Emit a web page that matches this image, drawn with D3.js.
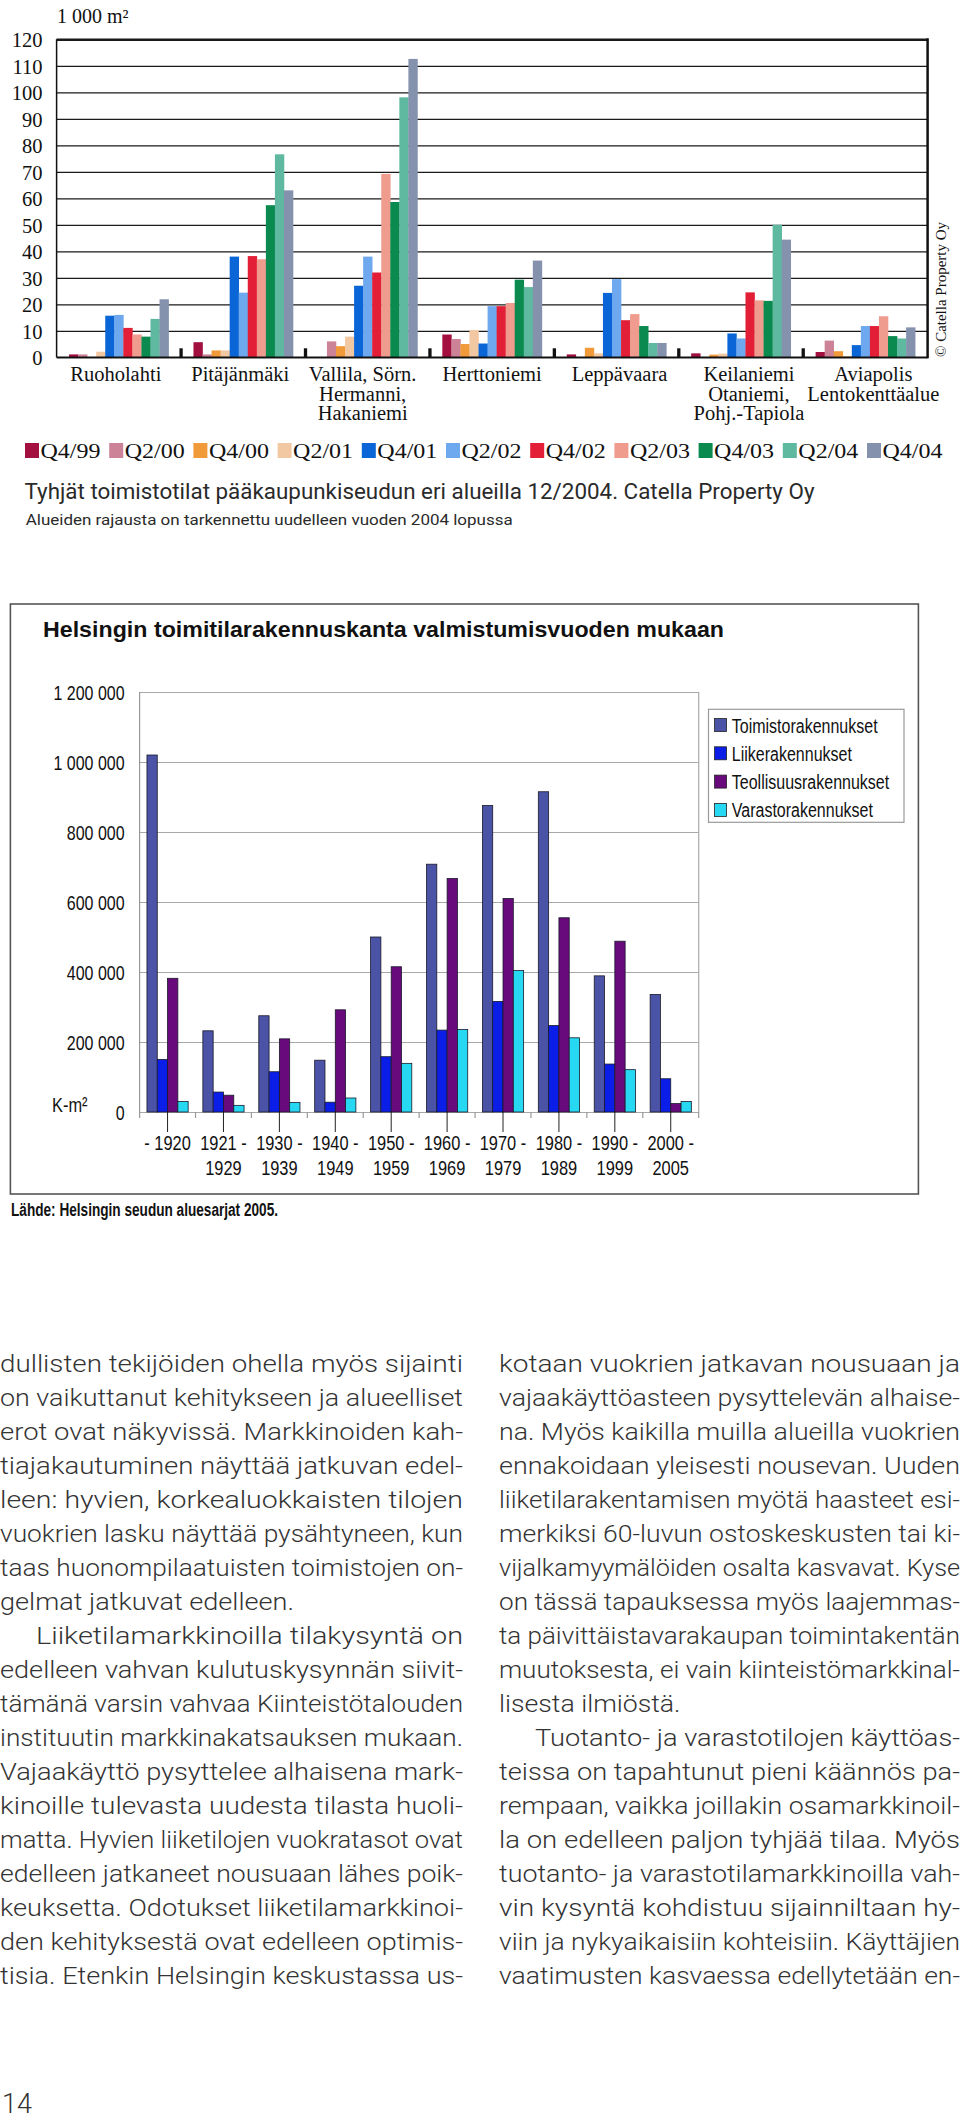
<!DOCTYPE html>
<html><head><meta charset="utf-8">
<script src="https://cdn.jsdelivr.net/npm/d3@7"></script>
<style>body{margin:0;background:#fff} svg{display:block}</style>
</head><body>
<svg id="page" width="960" height="2121"></svg>
<script>
// ================= DATA : chart 1 (vacant office space, 1 000 m²) =================
const quarters = ["Q4/99","Q2/00","Q4/00","Q2/01","Q4/01","Q2/02","Q4/02","Q2/03","Q4/03","Q2/04","Q4/04"];
const areaLabels = [["Ruoholahti"],["Pitäjänmäki"],["Vallila, Sörn.","Hermanni,","Hakaniemi"],["Herttoniemi"],["Leppävaara"],["Keilaniemi","Otaniemi,","Pohj.-Tapiola"],["Aviapolis","Lentokenttäalue"]];
const ruoholahti  = [1.1, 1.1, 0,   2.1, 15.7, 16,   11.1, 8.6,  7.8,  14.5, 21.9];
const pitajanmaki = [5.7, 1.1, 2.6, 2.6, 38,   24.4, 38.2, 37,   57.4, 76.6, 63];
const vallila     = [0,   6,   4.2, 7.8, 27,   38,   32,   69.2, 58.6, 98.1, 112.6];
const herttoniemi = [8.6, 6.9, 5,   10.3, 5.2, 19.3, 19.3, 20.5, 29.3, 26.5, 36.5];
const leppavaara  = [1.1, 0,   3.6, 1.5, 24.3, 29.5, 14,   16.3, 11.8, 5.4,  5.4];
const keilaniemi  = [1.5, 0,   1,   1.4, 9,    7.1,  24.5, 21.5, 21.3, 50,   44.4];
const aviapolis   = [2,   6.3, 2.3, 0.5, 4.6,  11.8, 11.8, 15.5, 8,    7.1,  11.3];
const vacancyTicks = [0,10,20,30,40,50,60,70,80,90,100,110,120];

// ================= DATA : chart 2 (building stock by completion period, k-m²) =================
const periods = [["- 1920"],["1921 -","1929"],["1930 -","1939"],["1940 -","1949"],["1950 -","1959"],["1960 -","1969"],["1970 -","1979"],["1980 -","1989"],["1990 -","1999"],["2000 -","2005"]];
const buildingTypes = ["Toimistorakennukset","Liikerakennukset","Teollisuusrakennukset","Varastorakennukset"];
const toimisto   = [1020000, 232000, 275000, 148000, 500000, 708000, 876000, 915000, 389000, 336000];
const liike      = [150000,  57000,  115000, 28000,  158000, 234000, 316000, 247000, 137000, 95000];
const teollisuus = [382000,  48000,  209000, 292000, 415000, 667000, 610000, 555000, 488000, 24000];
const varasto    = [30000,   19000,  27000,  40000,  139000, 236000, 404000, 212000, 121000, 30000];
const stockTicks = [0,200000,400000,600000,800000,1000000,1200000];

// ================= TEXT =================
const leftLines = [
"dullisten tekijöiden ohella myös sijainti",
"on vaikuttanut kehitykseen ja alueelliset",
"erot ovat näkyvissä.  Markkinoiden kah-",
"tiajakautuminen näyttää jatkuvan edel-",
"leen: hyvien, korkealuokkaisten tilojen",
"vuokrien lasku näyttää pysähtyneen, kun",
"taas huonompilaatuisten toimistojen on-",
"gelmat jatkuvat edelleen.",
"Liiketilamarkkinoilla tilakysyntä on",
"edelleen vahvan kulutuskysynnän siivit-",
"tämänä varsin vahvaa Kiinteistötalouden",
"instituutin markkinakatsauksen mukaan.",
"Vajaakäyttö pysyttelee alhaisena mark-",
"kinoille tulevasta uudesta tilasta huoli-",
"matta. Hyvien liiketilojen vuokratasot ovat",
"edelleen jatkaneet nousuaan lähes poik-",
"keuksetta. Odotukset liiketilamarkkinoi-",
"den kehityksestä ovat edelleen optimis-",
"tisia. Etenkin Helsingin keskustassa us-"];
const rightLines = [
"kotaan vuokrien jatkavan nousuaan ja",
"vajaakäyttöasteen pysyttelevän alhaise-",
"na. Myös kaikilla muilla alueilla vuokrien",
"ennakoidaan yleisesti nousevan. Uuden",
"liiketilarakentamisen myötä haasteet esi-",
"merkiksi 60-luvun ostoskeskusten tai ki-",
"vijalkamyymälöiden osalta kasvavat. Kyse",
"on tässä tapauksessa myös laajemmas-",
"ta päivittäistavarakaupan toimintakentän",
"muutoksesta, ei vain kiinteistömarkkinal-",
"lisesta ilmiöstä.",
"Tuotanto- ja varastotilojen käyttöas-",
"teissa on tapahtunut pieni käännös pa-",
"rempaan, vaikka joillakin osamarkkinoil-",
"la on edelleen paljon tyhjää tilaa. Myös",
"tuotanto- ja varastotilamarkkinoilla vah-",
"vin kysyntä kohdistuu sijainniltaan hy-",
"viin ja nykyaikaisiin kohteisiin. Käyttäjien",
"vaatimusten kasvaessa edellytetään en-"];

// ================= STYLE =================
const qColors = ["#a3103f","#cc8398","#f09a3a","#f2c8a2","#0a66d6","#6ea8ee","#e21f36","#ef9c8e","#0a8a4e","#5fb8a0","#8592ae"];
const tColors = ["#4b53a6","#0a1ee8","#680a7c","#26d8f2"];
const SERIF = "'Liberation Serif','Times New Roman',serif";
const SANS = "'Liberation Sans',Arial,sans-serif";
const BODY = "Roboto,'Noto Sans',sans-serif";

const svg = d3.select("#page");
function fitTo(sel, w){ sel.attr("textLength", w).attr("lengthAdjust","spacingAndGlyphs"); }
function condense(sel, f){ sel.each(function(){ const n=this.getComputedTextLength(); d3.select(this).attr("textLength",(n*f).toFixed(1)).attr("lengthAdjust","spacingAndGlyphs"); }); }

// ================= CHART 1 =================
const g1 = svg.append("g");
const vac = [ruoholahti, pitajanmaki, vallila, herttoniemi, leppavaara, keilaniemi, aviapolis];
const L1 = 56.6, R1 = 927.6;
const x0 = d3.scaleBand().domain(d3.range(areaLabels.length)).range([L1, R1]).paddingInner(0.2).paddingOuter(0.1);
const x1 = d3.scaleBand().domain(quarters).range([0, x0.bandwidth()]);
const y1 = d3.scaleLinear().domain([0,120]).range([357.3, 39.3]);

const ax1 = g1.append("g").attr("transform",`translate(${L1},0)`)
  .call(d3.axisLeft(y1).tickValues(vacancyTicks).tickSize(-(R1-L1)).tickPadding(14).tickFormat(d3.format("d")));
ax1.select(".domain").remove();
ax1.selectAll(".tick line").attr("stroke","#1a1a1a").attr("stroke-width",d=>d===120?2.5:1.3);
ax1.selectAll(".tick text").attr("font-family",SERIF).attr("font-size",20.5).attr("fill","#111").attr("dy","0.36em");

g1.append("text").attr("x",57).attr("y",23).attr("font-family",SERIF).attr("font-size",20).attr("fill","#111").text("1 000 m²");

// bars
g1.selectAll("g.area").data(vac).join("g").attr("class","area")
  .attr("transform",(d,i)=>`translate(${x0(i)},0)`)
  .selectAll("rect").data(d=>d.map((v,j)=>({q:quarters[j],v,j}))).join("rect")
  .attr("x",d=>x1(d.q)).attr("width",x1.bandwidth()+0.3)
  .attr("y",d=>y1(d.v)).attr("height",d=>y1(0)-y1(d.v))
  .attr("fill",d=>qColors[d.j]);

// frame
g1.append("line").attr("x1",L1).attr("x2",L1).attr("y1",y1(120)).attr("y2",y1(0)).attr("stroke","#111").attr("stroke-width",1.5);
g1.append("line").attr("x1",R1).attr("x2",R1).attr("y1",y1(120)-1).attr("y2",y1(0)+1).attr("stroke","#111").attr("stroke-width",2.5);
g1.append("line").attr("x1",L1).attr("x2",R1).attr("y1",y1(0)).attr("y2",y1(0)).attr("stroke","#111").attr("stroke-width",1.6);

// group separator ticks
const pad1 = (x0.step()-x0.bandwidth())/2;
g1.selectAll("rect.sep").data(d3.range(1,areaLabels.length)).join("rect").attr("class","sep")
  .attr("x",i=>x0(i)-pad1-1.6).attr("width",3.3).attr("y",y1(0)-9).attr("height",9).attr("fill","#111");

// category labels
const labelDx = [-3,-3,-5,0,3,8,8];
g1.selectAll("text.cat").data(areaLabels).join("text").attr("class","cat")
  .attr("font-family",SERIF).attr("font-size",20.5).attr("fill","#111").attr("text-anchor","middle")
  .each(function(lines,i){
    const cx = x0(i)+x0.bandwidth()/2+labelDx[i];
    d3.select(this).selectAll("tspan").data(lines).join("tspan")
      .attr("x",cx).attr("y",(d,k)=>381+k*19.5).text(d=>d);
  });

// copyright
g1.append("text").attr("transform","translate(946,357) rotate(-90)")
  .attr("font-family",SERIF).attr("font-size",15).attr("fill","#111").text("© Catella Property Oy").call(fitTo,135);

// legend
const lx = d3.scaleBand().domain(quarters).range([25, 25+11*84.2]);
const lg = g1.selectAll("g.leg").data(quarters).join("g").attr("class","leg").attr("transform",d=>`translate(${lx(d)},0)`);
lg.append("rect").attr("y",443).attr("width",14).attr("height",15).attr("fill",(d,i)=>qColors[i]);
lg.append("text").attr("x",15.5).attr("y",457.5).attr("font-family",SERIF).attr("font-size",20).attr("fill","#111").text(d=>d).call(fitTo,60);

// caption
svg.append("text").attr("x",24.5).attr("y",499).attr("font-family",BODY).attr("font-weight",400).attr("font-size",22).attr("fill","#2a2a2a")
  .text("Tyhjät toimistotilat pääkaupunkiseudun eri alueilla 12/2004. Catella Property Oy").call(fitTo,790);
svg.append("text").attr("x",25.7).attr("y",525).attr("font-family",BODY).attr("font-weight",400).attr("font-size",15.5).attr("fill","#2a2a2a")
  .text("Alueiden rajausta on tarkennettu uudelleen vuoden 2004 lopussa").call(fitTo,487);

// ================= CHART 2 =================
const g2 = svg.append("g");
g2.append("rect").attr("x",10.4).attr("y",604).attr("width",908).attr("height",590).attr("fill","none").attr("stroke","#555").attr("stroke-width",1.6);
g2.append("text").attr("x",43).attr("y",637).attr("font-family",SANS).attr("font-weight","bold").attr("font-size",22.5).attr("fill","#111")
  .text("Helsingin toimitilarakennuskanta valmistumisvuoden mukaan").call(fitTo,681);

const L2 = 139.6, R2 = 698.7;
const stock = [toimisto, liike, teollisuus, varasto];
const xA = d3.scaleBand().domain(d3.range(periods.length)).range([L2,R2]).paddingInner(0.263).paddingOuter(0.1315);
const xB = d3.scaleBand().domain(buildingTypes).range([0,xA.bandwidth()]);
const yA = d3.scaleLinear().domain([0,1200000]).range([1112,692]);
const loc = d3.formatLocale({decimal:",", thousands:" ", grouping:[3], currency:["","€"]});

const ax2 = g2.append("g").attr("transform",`translate(${L2},0)`)
  .call(d3.axisLeft(yA).tickValues(stockTicks).tickSize(-(R2-L2)).tickPadding(15).tickFormat(loc.format(",d")));
ax2.select(".domain").remove();
ax2.selectAll(".tick line").attr("stroke","#a8a8a8").attr("stroke-width",1.2);
ax2.selectAll(".tick text").attr("font-family",SANS).attr("font-size",20.5).attr("fill","#111").attr("dy","0.36em").call(condense,0.78);

// plot border
g2.append("line").attr("x1",L2).attr("x2",L2).attr("y1",692).attr("y2",1112).attr("stroke","#999").attr("stroke-width",1.2);
g2.append("line").attr("x1",R2).attr("x2",R2).attr("y1",692).attr("y2",1112).attr("stroke","#aaa").attr("stroke-width",1.2);

// boundary ticks under axis
g2.selectAll("line.bt").data(d3.range(periods.length+1)).join("line").attr("class","bt")
  .attr("x1",i=>L2+i*xA.step()).attr("x2",i=>L2+i*xA.step()).attr("y1",1112).attr("y2",1118).attr("stroke","#999").attr("stroke-width",1.2);
// center lines
g2.selectAll("line.ct").data(d3.range(periods.length)).join("line").attr("class","ct")
  .attr("x1",i=>xA(i)+xA.bandwidth()/2).attr("x2",i=>xA(i)+xA.bandwidth()/2).attr("y1",1112).attr("y2",1132).attr("stroke","#222").attr("stroke-width",1);

// bars
g2.selectAll("g.per").data(d3.range(periods.length)).join("g").attr("class","per")
  .attr("transform",i=>`translate(${xA(i)},0)`)
  .selectAll("rect").data(i=>stock.map((s,k)=>({t:buildingTypes[k],v:s[i],k}))).join("rect")
  .attr("x",d=>xB(d.t)).attr("width",xB.bandwidth())
  .attr("y",d=>yA(d.v)).attr("height",d=>yA(0)-yA(d.v))
  .attr("fill",d=>tColors[d.k]).attr("stroke","#1a1a2a").attr("stroke-width",0.8);

// x labels
g2.selectAll("text.per").data(periods).join("text").attr("class","per")
  .attr("font-family",SANS).attr("font-size",20.5).attr("fill","#111").attr("text-anchor","middle")
  .each(function(lines,i){
    const cx = xA(i)+xA.bandwidth()/2;
    d3.select(this).selectAll("tspan").data(lines).join("tspan").attr("x",cx).attr("y",(d,k)=>1150+k*25).text(d=>d);
  });
g2.selectAll("text.per tspan").call(condense,0.8);

g2.append("text").attr("x",52).attr("y",1112).attr("font-family",SANS).attr("font-size",20.5).attr("fill","#111").text("K-m²").call(condense,0.8);

// legend
g2.append("rect").attr("x",708.5).attr("y",709.3).attr("width",195.5).attr("height",113).attr("fill","#fff").attr("stroke","#999").attr("stroke-width",1.2);
const lg2 = g2.selectAll("g.leg2").data(buildingTypes).join("g").attr("class","leg2").attr("transform",(d,i)=>`translate(0,${725+i*28.3})`);
lg2.append("rect").attr("x",714.6).attr("y",-6.5).attr("width",12).attr("height",13).attr("fill",(d,i)=>tColors[i]).attr("stroke","#222").attr("stroke-width",0.8);
lg2.append("text").attr("x",731.8).attr("y",7.5).attr("font-family",SANS).attr("font-size",20).attr("fill","#111").text(d=>d).call(condense,0.8);

svg.append("text").attr("x",11).attr("y",1216).attr("font-family",SANS).attr("font-weight","bold").attr("font-size",17.5).attr("fill","#111")
  .text("Lähde: Helsingin seudun aluesarjat 2005.").call(fitTo,267);

// ================= BODY TEXT =================
const cols = [{lines:leftLines, x0:0, x1:463, indent:[8], last:[7]},{lines:rightLines, x0:499, x1:960, indent:[11], last:[10]}];
const tg = svg.append("g").attr("font-family",BODY).attr("font-weight",300).attr("font-size",24.5).attr("fill","#333");
cols.forEach(c=>{
  const texts = tg.selectAll(null).data(c.lines).join("text")
    .attr("x",(d,i)=>c.indent.includes(i)? c.x0+36 : c.x0)
    .attr("y",(d,i)=>1371.7+i*34).text(d=>d);
  const ratios=[];
  texts.each(function(d,i){
    if(c.last.includes(i)) return;
    const n=this.getComputedTextLength(); const x=+d3.select(this).attr("x");
    ratios.push((c.x1-x)/n);
    d3.select(this).attr("textLength",(c.x1-x).toFixed(1)).attr("lengthAdjust","spacingAndGlyphs");
  });
  const f = d3.median(ratios);
  texts.filter((d,i)=>c.last.includes(i)).each(function(){
    const n=this.getComputedTextLength();
    d3.select(this).attr("textLength",(n*f).toFixed(1)).attr("lengthAdjust","spacingAndGlyphs");
  });
});
svg.append("text").attr("x",2).attr("y",2113).attr("font-family",BODY).attr("font-weight",300).attr("font-size",27).attr("fill","#333").text("14");
</script>
</body></html>
